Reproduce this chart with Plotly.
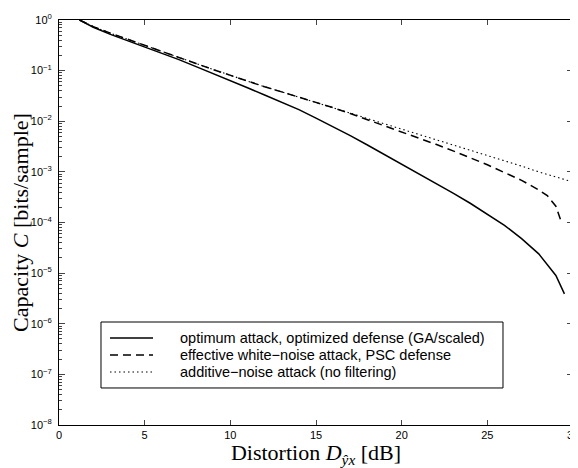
import plotly.graph_objects as go

# Distortion (dB) and capacity values
d_opt = [1.2, 2, 3, 4, 5, 6, 7, 8, 9, 10, 11, 12, 13, 14, 15, 16, 17, 18, 19, 20,
         21, 22, 23, 24, 25, 26, 27, 28, 29, 29.5]
c_opt = [1.0, 0.72, 0.52, 0.39, 0.30, 0.22, 0.165, 0.12, 0.088, 0.064, 0.046, 0.033,
         0.024, 0.017, 0.0115, 0.0078, 0.0052, 0.0034, 0.0022, 0.00145, 0.00094,
         0.0006, 0.00038, 0.00024, 0.000148, 8.8e-5, 4.8e-5, 2.4e-5, 9e-6, 3.9e-6]

d_wn = [1.2, 2, 3, 4, 5, 6, 7, 8, 9, 10, 11, 12, 13, 14, 15, 16, 17, 18, 19, 20,
        21, 22, 23, 24, 25, 26, 27, 28, 28.5, 29, 29.35]
c_wn = [1.0, 0.74, 0.55, 0.42, 0.32, 0.24, 0.182, 0.138, 0.105, 0.080, 0.061, 0.048,
        0.038, 0.030, 0.024, 0.0185, 0.0142, 0.0108, 0.0082, 0.0062, 0.0047, 0.0035,
        0.0026, 0.0019, 0.00138, 0.00097, 0.00068, 0.00044, 0.00034, 0.00021,
        9.5e-5]

d_add = [1.2, 2, 3, 4, 5, 6, 7, 8, 9, 10, 11, 12, 13, 14, 15, 16, 17, 18, 19, 20,
         21, 22, 23, 24, 25, 26, 27, 28, 29, 30]
c_add = [1.0, 0.74, 0.55, 0.42, 0.32, 0.24, 0.182, 0.138, 0.105, 0.080, 0.061, 0.048,
         0.038, 0.030, 0.024, 0.0186, 0.0145, 0.0113, 0.0089, 0.0070, 0.0055, 0.0044,
         0.0034, 0.0027, 0.0021, 0.00165, 0.0013, 0.00100, 0.00079, 0.00063]

names = ["optimum attack, optimized defense (GA/scaled)",
         "effective white\u2212noise attack, PSC defense",
         "additive\u2212noise attack (no filtering)"]

x_ticks = [0, 5, 10, 15, 20, 25, 30]
y_exps = list(range(-8, 1))

styles = [dict(color="black", width=1.5, dash="solid"),
          dict(color="black", width=1.5, dash="8px,5px"),
          dict(color="black", width=1.1, dash="1.5px,3px")]

fig = go.Figure()
for xs, ys, nm, st in [(d_opt, c_opt, names[0], styles[0]),
                       (d_wn, c_wn, names[1], styles[1]),
                       (d_add, c_add, names[2], styles[2])]:
    fig.add_trace(go.Scatter(x=xs, y=ys, mode="lines", name=nm, line=st,
                             showlegend=False))

# legend drawn in paper coordinates (box, sample lines, labels)
box = dict(x0=0.0817, x1=0.8638, y0=0.0914, y1=0.2543)
row_y = [0.2148, 0.1728, 0.1309]
samp_x = (0.0992, 0.1829)
text_x = 0.2315

shapes = [dict(type="rect", xref="paper", yref="paper", line=dict(color="black", width=1),
               fillcolor="white", layer="above", **box)]
annotations = []
for nm, st, yy in zip(names, styles, row_y):
    shapes.append(dict(type="line", xref="paper", yref="paper", layer="above",
                       x0=samp_x[0], x1=samp_x[1], y0=yy, y1=yy,
                       line=dict(color=st["color"], width=st["width"], dash=st["dash"])))
    annotations.append(dict(xref="paper", yref="paper", x=text_x, y=yy, text=nm,
                            showarrow=False, xanchor="left", yanchor="middle",
                            font=dict(size=14.5, family="Liberation Sans, Arial, sans-serif",
                                      color="black")))

minor_vals = [k * 10.0 ** e for e in range(-8, 0) for k in range(2, 10)]

fig.update_layout(
    width=570, height=460,
    margin=dict(l=51, r=5, t=12, b=43),
    paper_bgcolor="white", plot_bgcolor="white",
    font=dict(family="Liberation Sans, Arial, sans-serif", color="black", size=11),
    showlegend=False,
    shapes=shapes, annotations=annotations,
    xaxis=dict(range=[0, 30], tickvals=x_ticks, ticks="inside", ticklen=5,
               showline=True, linecolor="black", linewidth=1, mirror="ticks",
               showgrid=False, zeroline=False, automargin=False,
               ticklabeloverflow="allow",
               tickfont=dict(size=11),
               title=dict(text="Distortion <i>D</i><sub><i>\u0177x</i></sub> [dB]",
                          font=dict(family="Liberation Serif, Times New Roman, serif", size=22),
                          standoff=1)),
    yaxis=dict(type="log", range=[-8, 0],
               tickvals=[10.0 ** e for e in y_exps],
               ticktext=["10<sup>%s</sup>" % (str(e).replace("-", "\u2212")) for e in y_exps],
               ticks="inside", ticklen=6, ticklabelstandoff=4,
               showline=True, linecolor="black", linewidth=1, mirror="ticks",
               showgrid=False, zeroline=False, automargin=False,
               ticklabeloverflow="allow",
               tickfont=dict(size=11),
               minor=dict(tickvals=minor_vals, ticks="inside", ticklen=3, showgrid=False),
               title=dict(text="Capacity <i>C</i> [bits/sample]",
                          font=dict(family="Liberation Serif, Times New Roman, serif", size=22),
                          standoff=0)),
)

fig.write_html("out.html")
